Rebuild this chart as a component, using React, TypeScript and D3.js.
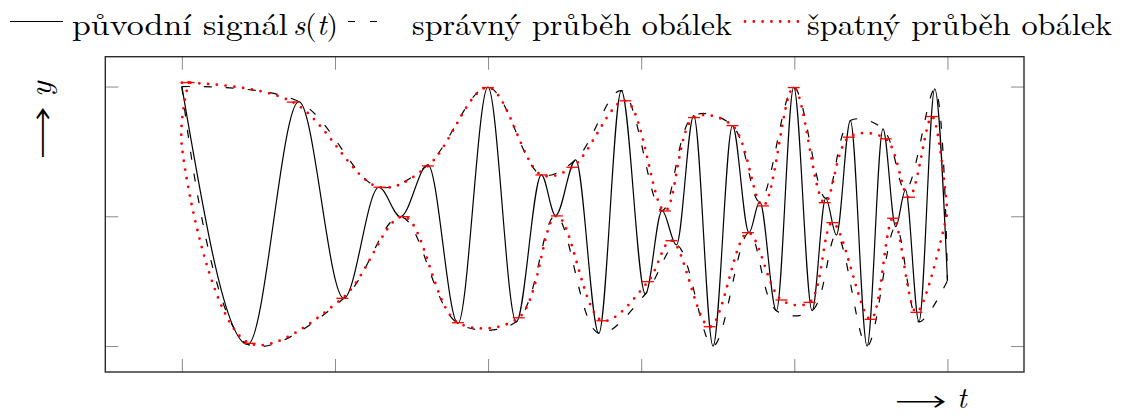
import React, { useEffect, useRef } from 'react';
import * as d3 from 'd3';

// original signal s(t): start point, extrema, end point
const sigT = [0, 0.431, 0.764, 1.058, 1.287, 1.428, 1.607, 1.803, 1.999, 2.184, 2.348, 2.441, 2.572, 2.723, 2.870, 3.027, 3.136, 3.230, 3.343, 3.469, 3.596, 3.704, 3.774, 3.883, 3.996, 4.116, 4.205, 4.275, 4.366, 4.475, 4.579, 4.662, 4.726, 4.814, 4.917, 5.0];
const sigY = [1.0, -0.987, 0.884, -0.632, 0.224, -0.003, 0.396, -0.825, 0.995, -0.813, 0.319, 0.005, 0.435, -0.902, 0.969, -0.599, 0.044, -0.221, 0.776, -1.0, 0.699, -0.126, 0.113, -0.728, 0.995, -0.728, 0.139, -0.144, 0.738, -1.0, 0.674, -0.080, 0.203, -0.813, 0.982, -0.496];

// sampled (wrong) extrema, red markers
const upMarkT = [0.044, 0.725, 1.291, 1.607, 1.999, 2.348, 2.550, 2.897, 3.154, 3.345, 3.596, 3.795, 3.996, 4.198, 4.357, 4.597, 4.749, 4.899];
const upMarkY = [1.031, 0.880, 0.224, 0.388, 0.992, 0.319, 0.378, 0.890, 0.041, 0.761, 0.699, 0.080, 0.992, 0.105, 0.610, 0.597, 0.147, 0.769];
const loMarkT = [0.442, 1.048, 1.448, 1.803, 2.200, 2.449, 2.746, 3.044, 3.197, 3.447, 3.697, 3.916, 4.100, 4.249, 4.499, 4.645, 4.797];
const loMarkY = [-0.979, -0.632, -0.003, -0.820, -0.782, 0.003, -0.805, -0.504, -0.188, -0.851, -0.126, -0.645, -0.663, -0.049, -0.794, -0.015, -0.740];

// ends of the wrong envelopes
const wrongUpStart: [number, number][] = [[0, 1.03]];
const wrongLoStart: [number, number][] = [[0.044, 1.031], [0, 0.54]];
const wrongEnd: [number, number] = [5, 0.03];

const xTicks = [0, 1, 2, 3, 4, 5];
const yTicks = [-1, 0, 1];

const legendLabels = ['původní signál', 'správný průběh obálek', 'špatný průběh obálek'];

const SERIF = '"Latin Modern Roman", "Liberation Serif", serif';
const ARROW = '"FreeSerif", "DejaVu Serif", serif';

export default function App() {
  const svgRef = useRef<SVGSVGElement>(null);

  useEffect(() => {
    if (!svgRef.current) return;
    const svg = d3.select(svgRef.current);
    svg.selectAll('*').remove();

    const left = 105.3, right = 1024, top = 56.7, bottom = 372;
    const x = d3.scaleLinear().domain([-0.5, 5.5]).range([left, right]);
    const y = d3.scaleLinear().domain([-1.2, 1.23]).range([bottom, top]);

    const sig: [number, number][] = sigT.map((t, i) => [t, sigY[i]]);
    const upper = sig.filter((_, i) => i % 2 === 0 || i === sig.length - 1);
    const lower = sig.filter((_, i) => i === 0 || i % 2 === 1);
    const upMarks: [number, number][] = upMarkT.map((t, i) => [t, upMarkY[i]]);
    const loMarks: [number, number][] = loMarkT.map((t, i) => [t, loMarkY[i]]);
    const wrongUpper = [...wrongUpStart, ...upMarks, wrongEnd];
    const wrongLower = [...wrongLoStart, ...loMarks, wrongEnd];

    const sigLine = d3.line<[number, number]>()
      .x(d => x(d[0])).y(d => y(d[1]))
      .curve(d3.curveMonotoneX);
    const envLine = d3.line<[number, number]>()
      .x(d => x(d[0])).y(d => y(d[1]))
      .curve(d3.curveCatmullRom.alpha(0.5));

    // ticks (inside, all four sides)
    const tickStyle = (g: any) => {
      g.select('.domain').remove();
      g.selectAll('line').attr('stroke', '#8a8a8a').attr('stroke-width', 1);
      g.selectAll('text').remove();
    };
    svg.append('g').attr('transform', `translate(0,${bottom})`)
      .call(d3.axisBottom(x).tickValues(xTicks).tickSize(-13)).call(tickStyle);
    svg.append('g').attr('transform', `translate(0,${top})`)
      .call(d3.axisTop(x).tickValues(xTicks).tickSize(-13)).call(tickStyle);
    svg.append('g').attr('transform', `translate(${left},0)`)
      .call(d3.axisLeft(y).tickValues(yTicks).tickSize(-13)).call(tickStyle);
    svg.append('g').attr('transform', `translate(${right},0)`)
      .call(d3.axisRight(y).tickValues(yTicks).tickSize(-13)).call(tickStyle);

    // signal
    svg.append('path').attr('d', sigLine(sig))
      .attr('fill', 'none').attr('stroke', '#000').attr('stroke-width', 1.2);

    // correct envelopes
    [upper, lower].forEach(env => {
      svg.append('path').attr('d', envLine(env))
        .attr('fill', 'none').attr('stroke', '#000').attr('stroke-width', 1.2)
        .attr('stroke-dasharray', '8 14');
    });

    // wrong envelopes
    [wrongUpper, wrongLower].forEach(env => {
      svg.append('path').attr('d', envLine(env))
        .attr('fill', 'none').attr('stroke', '#ff0000').attr('stroke-width', 2.8)
        .attr('stroke-linecap', 'round').attr('stroke-dasharray', '0 8.8');
    });

    // markers
    svg.append('g').selectAll('line')
      .data([...upMarks, ...loMarks])
      .enter().append('line')
      .attr('x1', d => x(d[0]) - 6).attr('x2', d => x(d[0]) + 6)
      .attr('y1', d => y(d[1])).attr('y2', d => y(d[1]))
      .attr('stroke', '#ff0000').attr('stroke-width', 1.3);

    // frame
    svg.append('rect')
      .attr('x', left).attr('y', top)
      .attr('width', right - left).attr('height', bottom - top)
      .attr('fill', 'none').attr('stroke', '#2a2a2a').attr('stroke-width', 1.4);

    // legend
    const lg = svg.append('g');
    const ly = 21.5, base = 34.5;
    const legendText = (tx: number, w: number) =>
      lg.append('text').attr('x', tx).attr('y', base)
        .attr('font-family', SERIF).attr('font-size', 30)
        .attr('textLength', w).attr('lengthAdjust', 'spacingAndGlyphs');
    lg.append('line').attr('x1', 10).attr('x2', 63).attr('y1', ly).attr('y2', ly)
      .attr('stroke', '#000').attr('stroke-width', 1.2);
    legendText(72, 216).text(legendLabels[0]);
    const st = legendText(293, 45);
    st.append('tspan').attr('font-style', 'italic').text('s');
    st.append('tspan').text('(');
    st.append('tspan').attr('font-style', 'italic').text('t');
    st.append('tspan').text(')');
    lg.append('line').attr('x1', 348).attr('x2', 377).attr('y1', ly).attr('y2', ly)
      .attr('stroke', '#000').attr('stroke-width', 1.2).attr('stroke-dasharray', '7 15');
    legendText(412, 320).text(legendLabels[1]);
    lg.append('line').attr('x1', 745).attr('x2', 798).attr('y1', ly).attr('y2', ly)
      .attr('stroke', '#ff0000').attr('stroke-width', 2.8)
      .attr('stroke-linecap', 'round').attr('stroke-dasharray', '0 8.8');
    legendText(807, 305).text(legendLabels[2]);

    // axis labels
    const al = svg.append('g');
    al.append('text').attr('x', 897).attr('y', 409)
      .attr('font-family', ARROW).attr('font-size', 29)
      .attr('textLength', 48).attr('lengthAdjust', 'spacingAndGlyphs')
      .text('⟶');
    al.append('text').attr('x', 957).attr('y', 407.5)
      .attr('font-family', SERIF).attr('font-size', 29).attr('font-style', 'italic')
      .text('t');
    al.append('text').attr('transform', 'translate(51,157) rotate(-90)')
      .attr('font-family', ARROW).attr('font-size', 32)
      .attr('textLength', 49).attr('lengthAdjust', 'spacingAndGlyphs')
      .text('⟶');
    al.append('text').attr('transform', 'translate(50.5,97) rotate(-90)')
      .attr('font-family', SERIF).attr('font-size', 32).attr('font-style', 'italic')
      .text('y');
  }, []);

  return (
    <svg
      ref={svgRef}
      width={1124}
      height={416}
      style={{ position: 'absolute', left: 0, top: 0, display: 'block', background: '#fff' }}
    />
  );
}
